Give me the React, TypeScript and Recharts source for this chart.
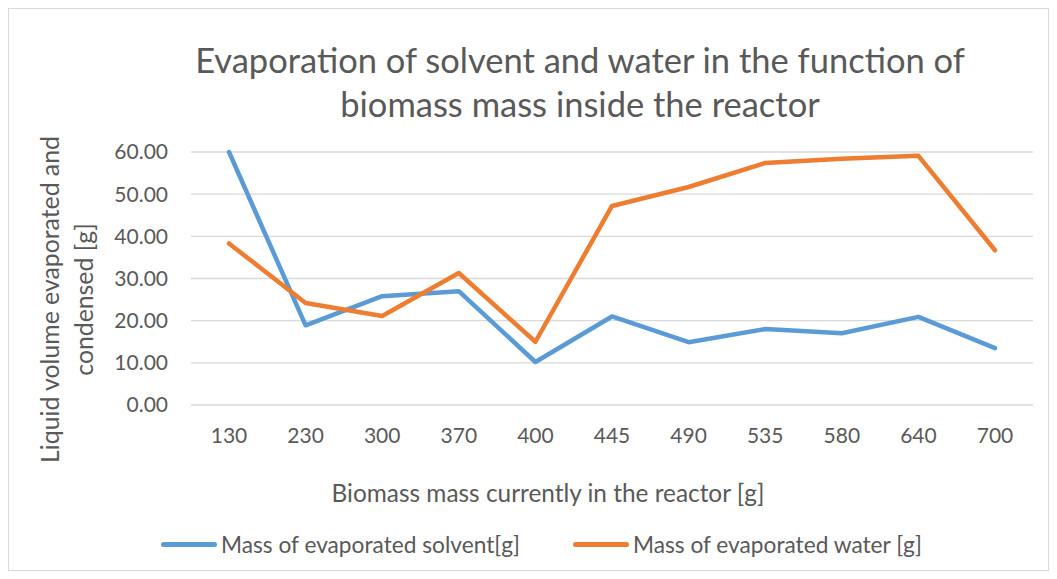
import { LineChart, Line, XAxis, YAxis, CartesianGrid, Label } from "recharts"

const masses = ["130", "230", "300", "370", "400", "445", "490", "535", "580", "640", "700"]
const solvent = [60.0, 18.9, 25.8, 27.0, 10.2, 21.0, 14.9, 18.0, 17.0, 20.9, 13.5]
const water = [38.3, 24.2, 21.1, 31.3, 15.0, 47.2, 51.7, 57.4, 58.4, 59.1, 36.7]
const yTicks = [0, 10, 20, 30, 40, 50, 60]

const data = masses.map((m, i) => ({ mass: m, solvent: solvent[i], water: water[i] }))

const FONT = "Lato, 'Open Sans', sans-serif"
const TXT = "#595959"
const BLUE = "#5B9BD5"
const ORANGE = "#ED7D31"

function YTitle(props: any) {
  const { viewBox } = props
  const cy = viewBox.y + viewBox.height / 2 + 21
  return (
    <g fontFamily={FONT} fontSize={24.8} fill={TXT}>
      <text x={40} y={cy} textAnchor="middle" dominantBaseline="central" transform={`rotate(-90 40 ${cy})`}>
        Liquid volume evaporated and
      </text>
      <text x={74} y={cy} textAnchor="middle" dominantBaseline="central" transform={`rotate(-90 74 ${cy})`}>
        condensed [g]
      </text>
    </g>
  )
}

function XTitle(props: any) {
  const { viewBox } = props
  const cx = viewBox.x + viewBox.width / 2 - 64
  return (
    <text x={cx} y={viewBox.y + 87} textAnchor="middle" dominantBaseline="central" fontFamily={FONT} fontSize={24.4} fill={TXT}>
      Biomass mass currently in the reactor [g]
    </text>
  )
}

export default function App() {
  return (
    <div style={{ position: "relative", width: 1039, height: 561, border: "1px solid #d9d9d9", background: "#fff", fontFamily: FONT }}>
      <div style={{ position: "absolute", top: 29, left: 0, width: 1039, paddingLeft: 103, boxSizing: "border-box", textAlign: "center", fontSize: 34.5, lineHeight: "44px", color: TXT }}>
        Evaporation of solvent and water in the function of<br />biomass mass inside the reactor
      </div>
      <LineChart width={1039} height={561} data={data} margin={{ top: 143, right: 15, bottom: 0, left: 0 }}>
        <CartesianGrid vertical={false} stroke="#d9d9d9" strokeWidth={1.3} />
        <XAxis
          dataKey="mass"
          height={165}
          padding={{ left: 38, right: 38 }}
          axisLine={false}
          tickLine={false}
          tickSize={0}
          tickMargin={23}
          tick={{ fill: TXT, fontSize: 21, fontFamily: FONT }}
        >
          <Label content={<XTitle />} />
        </XAxis>
        <YAxis
          width={182}
          domain={[0, 60]}
          ticks={yTicks}
          axisLine={false}
          tickLine={false}
          tickSize={0}
          tickMargin={23}
          tickFormatter={(v: number) => v.toFixed(2)}
          tick={{ fill: TXT, fontSize: 21, fontFamily: FONT }}
        >
          <Label content={<YTitle />} />
        </YAxis>
        <Line dataKey="solvent" name="Mass of evaporated solvent[g]" stroke={BLUE} strokeWidth={4.5} strokeLinecap="round" strokeLinejoin="round" dot={false} isAnimationActive={false} />
        <Line dataKey="water" name="Mass of evaporated water [g]" stroke={ORANGE} strokeWidth={4.5} strokeLinecap="round" strokeLinejoin="round" dot={false} isAnimationActive={false} />
      </LineChart>
      <div style={{ position: "absolute", top: 522, left: 152, display: "flex", alignItems: "center", fontSize: 22.7, color: TXT, whiteSpace: "nowrap" }}>
        <span style={{ display: "inline-block", width: 56, height: 5, borderRadius: 3, background: BLUE, marginRight: 4 }} />
        <span>Mass of evaporated solvent[g]</span>
        <span style={{ display: "inline-block", width: 56, height: 5, borderRadius: 3, background: ORANGE, marginLeft: 53, marginRight: 4 }} />
        <span>Mass of evaporated water [g]</span>
      </div>
    </div>
  )
}
